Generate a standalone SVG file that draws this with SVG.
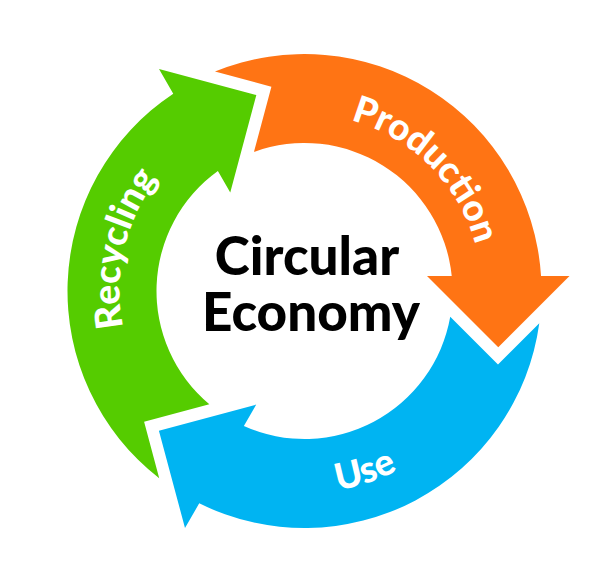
<svg xmlns="http://www.w3.org/2000/svg" xmlns:xlink="http://www.w3.org/1999/xlink" width="612" height="588" viewBox="0 0 612 588">
<style>
.label{font-family:Lato,"Liberation Sans",sans-serif;font-weight:900;font-size:37px;fill:#fff}
.title{font-family:Lato,"Liberation Sans",sans-serif;font-weight:900;font-size:53px;fill:#000;text-anchor:middle}
</style>
<defs>
<path id="arrow" d="M -89.51 -219.44 A 237 237 0 0 1 236.53 -15 L 265 -15 L 193.75 56.25 L 122.5 -15 L 147.24 -15 A 148 148 0 0 0 -50.57 -139.09 L -33.10 -204.32 Z"/>
<path id="pProd" d="M 258.69 120.03 A 177 177 0 0 1 475.47 336.81"/>
<path id="pRec" d="M 173.61 419.61 A 182 182 0 0 1 258.55 113.35"/>
<path id="pUse" d="M 170.65 442.30 A 202 202 0 0 0 502.44 331.28"/>
</defs>
<rect width="612" height="588" fill="#fff"/>
<g id="production">
<use xlink:href="#arrow" href="#arrow" transform="translate(304.5 291)" fill="#FF7414"/>
<text class="label"><textPath xlink:href="#pProd" href="#pProd" startOffset="50%" text-anchor="middle">Production</textPath></text>
</g>
<g id="use">
<use xlink:href="#arrow" href="#arrow" transform="translate(304.5 291) rotate(120)" fill="#00B4F2"/>
<text class="label"><textPath xlink:href="#pUse" href="#pUse" startOffset="50%" text-anchor="middle">Use</textPath></text>
</g>
<g id="recycling">
<use xlink:href="#arrow" href="#arrow" transform="translate(304.5 291) rotate(240)" fill="#55CC00"/>
<text class="label"><textPath xlink:href="#pRec" href="#pRec" startOffset="48%" text-anchor="middle">Recycling</textPath></text>
</g>
<g id="center">
<text class="title"><tspan x="307" y="275">Circular</tspan><tspan x="311" y="331">Economy</tspan></text>
</g>
<g id="connectors"></g>
</svg>
